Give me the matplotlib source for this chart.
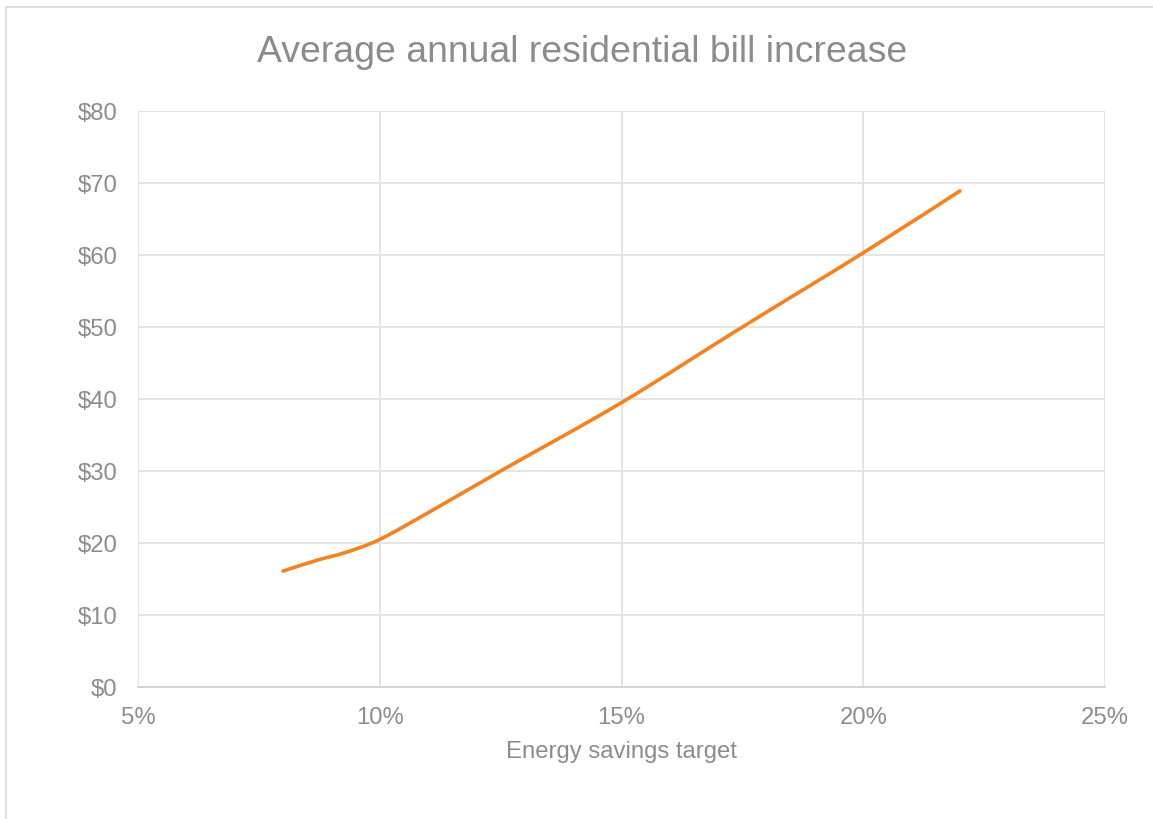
import numpy as np
import matplotlib.pyplot as plt
from matplotlib.path import Path
from matplotlib.patches import PathPatch, Rectangle
from matplotlib.ticker import FuncFormatter

plt.rcParams['font.family'] = ['Liberation Sans', 'DejaVu Sans']

# Values
savings_target = [8.0, 8.7, 9.3, 10.0, 11.0, 12.5, 15.0, 17.5, 20.0, 22.0]   # percent
bill_increase = [16.1, 17.6, 18.7, 20.5, 24.2, 30.0, 39.5, 50.0, 60.3, 68.9]  # dollars
x_ticks = [5, 10, 15, 20, 25]
y_ticks = [0, 10, 20, 30, 40, 50, 60, 70, 80]

text_grey = '#8c8c8c'
grid_grey = '#e3e3e3'
line_orange = '#F5821F'


def smooth_path(xs, ys):
    # Excel-style smoothed line: cubic bezier segments through each point
    xs = np.asarray(xs, float)
    ys = np.asarray(ys, float)
    n = len(xs)
    verts = [(xs[0], ys[0])]
    codes = [Path.MOVETO]
    for i in range(n - 1):
        i0 = max(i - 1, 0)
        i3 = min(i + 2, n - 1)
        c1 = (xs[i] + (xs[i + 1] - xs[i0]) / 6, ys[i] + (ys[i + 1] - ys[i0]) / 6)
        c2 = (xs[i + 1] - (xs[i3] - xs[i]) / 6, ys[i + 1] - (ys[i3] - ys[i]) / 6)
        verts += [c1, c2, (xs[i + 1], ys[i + 1])]
        codes += [Path.CURVE4] * 3
    return Path(verts, codes)


fig = plt.figure(figsize=(11.53, 8.2), dpi=100)
ax = fig.add_axes([138 / 1153, 1 - 688 / 820, (1105 - 138) / 1153, (688 - 112) / 820])

# outer chart frame (runs off the right and bottom edges)
fig.patches.append(Rectangle((6 / 1153, -0.1), 1.2, 1 - 8 / 820 + 0.1, transform=fig.transFigure,
                             fill=False, edgecolor='#d9d9d9', linewidth=1.2))

ax.add_patch(PathPatch(smooth_path(savings_target, bill_increase), fill=False,
                       edgecolor=line_orange, linewidth=2.6, capstyle='round', zorder=3))

ax.set_xlim(5, 25)
ax.set_ylim(0, 80)
ax.set_xticks(x_ticks)
ax.set_yticks(y_ticks)
ax.xaxis.set_major_formatter(FuncFormatter(lambda v, p: f'{v:.0f}%'))
ax.yaxis.set_major_formatter(FuncFormatter(lambda v, p: f'${v:.0f}'))
ax.tick_params(axis='both', length=0, labelsize=17.2, labelcolor=text_grey)
ax.tick_params(axis='x', pad=14)
ax.tick_params(axis='y', pad=15)

ax.grid(True, color=grid_grey, linewidth=1.3)
ax.set_axisbelow(True)
for side in ['top', 'right', 'left']:
    ax.spines[side].set_visible(False)
ax.spines['bottom'].set_color('#d0d0d0')
ax.spines['bottom'].set_linewidth(1.3)

ax.set_xlabel('Energy savings target', fontsize=17.2, color=text_grey, labelpad=8)
fig.text(582 / 1153, 1 - 52 / 820, 'Average annual residential bill increase',
         fontsize=26.9, color=text_grey, ha='center', va='center')

fig.savefig('out.png', dpi=100)
